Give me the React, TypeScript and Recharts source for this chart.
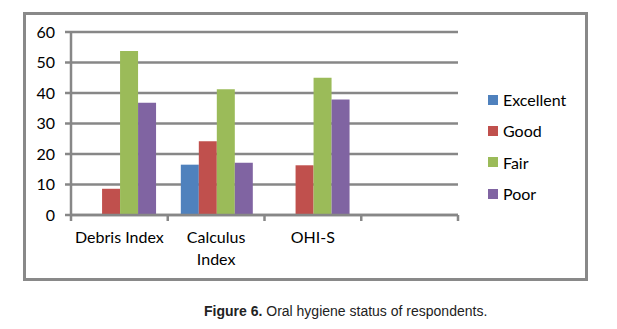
import React from "react";
import { BarChart, Bar, XAxis, YAxis, CartesianGrid, Legend, Text } from "recharts";

const categories = ["Debris Index", "Calculus Index", "OHI-S", ""];
const excellent = [0, 16.5, 0, null];
const good = [8.6, 24.2, 16.3, null];
const fair = [53.8, 41.2, 45.0, null];
const poor = [36.8, 17.1, 37.9, null];
const yTicks = [0, 10, 20, 30, 40, 50, 60];

const seriesNames = ["Excellent", "Good", "Fair", "Poor"];
const seriesColors = ["#4F81BD", "#C0504D", "#9BBB59", "#8064A2"];
const seriesValues = [excellent, good, fair, poor];

const data = categories.map((c, i) => {
  const row: any = { category: c };
  seriesNames.forEach((s, k) => {
    row[s] = seriesValues[k][i];
  });
  return row;
});

const GRAY = "#878787";
const FONT = "Lato";
const AXIS_Y_OFFSET = 17; // tickSize + tickMargin

const CategoryTick = (props: any) => {
  const { x, y, payload, index, visibleTicksCount } = props;
  const half = typeof payload.offset === "number" && payload.offset > 0 ? payload.offset : 48.4;
  const axisY = y - AXIS_Y_OFFSET;
  const isLast = index === (visibleTicksCount ?? 4) - 1;
  return (
    <g>
      <line x1={x - half} x2={x - half} y1={axisY} y2={axisY + 6} stroke={GRAY} strokeWidth={2.5} />
      {isLast && (
        <line x1={x + half} x2={x + half} y1={axisY} y2={axisY + 6} stroke={GRAY} strokeWidth={2.5} />
      )}
      <Text
        x={x}
        y={y}
        width={96}
        textAnchor="middle"
        verticalAnchor="start"
        lineHeight={22}
        fontSize={16}
        fontFamily={FONT}
        fill="#000"
        style={{ fontFamily: FONT, fontSize: 16 }}
      >
        {payload.value}
      </Text>
    </g>
  );
};

const LegendContent = (props: any) => {
  const payload = [...(props.payload || [])].sort(
    (a: any, b: any) => seriesNames.indexOf(a.value) - seriesNames.indexOf(b.value)
  );
  return (
    <div style={{ fontFamily: FONT, fontSize: 16, color: "#000" }}>
      {payload.map((p: any) => (
        <div key={p.value} style={{ display: "flex", alignItems: "center", height: 31.33 }}>
          <div style={{ width: 10, height: 10, background: p.color, marginRight: 5 }} />
          <span>{p.value}</span>
        </div>
      ))}
    </div>
  );
};

export default function App() {
  return (
    <div style={{ position: "absolute", left: 0, top: 0, width: 617, height: 329, background: "#fff" }}>
      <div
        style={{
          position: "absolute",
          left: 23,
          top: 12,
          width: 565,
          height: 269,
          border: "3px solid #898989",
          boxSizing: "border-box",
        }}
      />
      <div style={{ position: "absolute", left: 0, top: 0 }}>
        <BarChart
          width={617}
          height={329}
          data={data}
          margin={{ top: 32, right: 159, bottom: 64, left: 21 }}
          barCategoryGap="13.5%"
          barGap={0}
        >
          <CartesianGrid vertical={false} stroke={GRAY} strokeWidth={2.5} />
          <XAxis
            dataKey="category"
            height={50}
            tickLine={false}
            axisLine={{ stroke: GRAY, strokeWidth: 2.5 }}
            tickSize={6}
            tickMargin={11}
            interval={0}
            tick={<CategoryTick />}
          />
          <YAxis
            width={50}
            domain={[0, 60]}
            ticks={yTicks}
            interval={0}
            axisLine={{ stroke: GRAY, strokeWidth: 2.5 }}
            tickLine={{ stroke: GRAY, strokeWidth: 2.5 }}
            tickSize={6}
            tickMargin={10}
            tick={{ fill: "#000", fontSize: 16, fontFamily: FONT }}
          />
          <Legend
            layout="horizontal"
            align="center"
            verticalAlign="middle"
            content={<LegendContent />}
            wrapperStyle={{ left: 488, top: 84, width: 110 }}
          />
          {seriesNames.map((s, k) => (
            <Bar key={s} dataKey={s} fill={seriesColors[k]} isAnimationActive={false} />
          ))}
        </BarChart>
      </div>
      <div
        style={{
          position: "absolute",
          left: 204,
          top: 303,
          whiteSpace: "nowrap",
          fontFamily: "Liberation Sans, Arial, sans-serif",
          fontSize: 14,
          lineHeight: "17px",
          color: "#222",
        }}
      >
        <b>Figure 6.</b> Oral hygiene status of respondents.
      </div>
    </div>
  );
}
